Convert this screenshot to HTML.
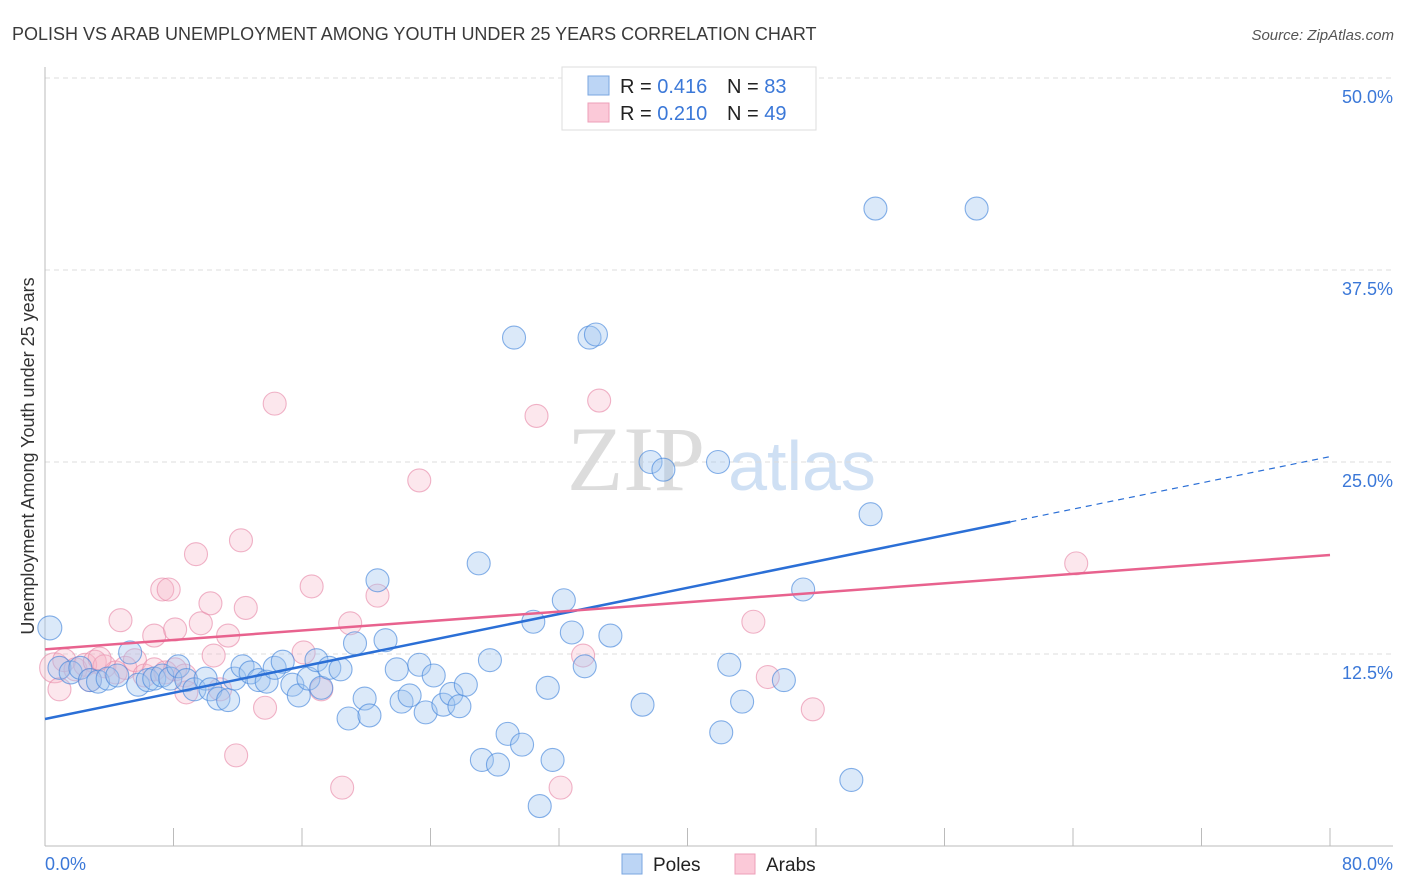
<!DOCTYPE html>
<html><head><meta charset="utf-8"><style>
body{margin:0;background:#fff;font-family:"Liberation Sans",sans-serif;}
svg{display:block}
</style></head><body>
<svg id="chart" width="1406" height="892" viewBox="0 0 1406 892">
<text x="12" y="40" font-size="18" fill="#3a3a3a">POLISH VS ARAB UNEMPLOYMENT AMONG YOUTH UNDER 25 YEARS CORRELATION CHART</text>
<text x="1394" y="40" font-size="15" fill="#555" text-anchor="end" font-style="italic">Source: ZipAtlas.com</text>
<g>
<text x="636" y="490" font-size="92" fill="#dcdcdc" font-family="Liberation Serif,serif" text-anchor="middle">ZIP</text>
<text x="802" y="490" font-size="70" fill="#cfe0f4" text-anchor="middle">atlas</text>
</g>
<g id="grid"></g>
<g id="axes"></g>
<g id="marks"></g>
<g id="trend"></g>
<text transform="translate(34,456) rotate(-90)" font-size="18" fill="#333" text-anchor="middle">Unemployment Among Youth under 25 years</text>
<text x="45" y="870" font-size="18" fill="#3b78d8">0.0%</text>
<text x="1393" y="870" font-size="18" fill="#3b78d8" text-anchor="end">80.0%</text>
<g>
<rect x="562" y="67" width="254" height="63" fill="#fff" stroke="#ddd"/>
<rect x="588" y="76" width="21" height="19" fill="#bcd5f5" stroke="#7aa6e0"/>
<rect x="588" y="103" width="21" height="19" fill="#fbc9d8" stroke="#ee9fb8"/>
<text x="620" y="93" font-size="20" fill="#222">R = <tspan fill="#3b78d8">0.416</tspan><tspan x="727">N = </tspan><tspan fill="#3b78d8">83</tspan></text>
<text x="620" y="120" font-size="20" fill="#222">R = <tspan fill="#3b78d8">0.210</tspan><tspan x="727">N = </tspan><tspan fill="#3b78d8">49</tspan></text>
</g>
<g>
<rect x="622" y="854" width="20" height="20" fill="#bcd5f5" stroke="#7aa6e0"/>
<text x="653" y="871" font-size="19" fill="#222">Poles</text>
<rect x="735" y="854" width="20" height="20" fill="#fbc9d8" stroke="#ee9fb8"/>
<text x="766" y="871" font-size="19" fill="#222">Arabs</text>
</g>
</svg>
<script>
const yTicks=[12.5,25,37.5,50];
const yTickLabels=["12.5%","25.0%","37.5%","50.0%"];
const xTicks=[0,8,16,24,32,40,48,56,64,72,80];
const polesX=[0.3,0.9,1.6,2.2,2.8,3.3,3.9,4.5,5.3,5.8,6.4,6.8,7.3,7.8,8.3,8.8,9.3,10.0,10.3,10.8,11.4,11.8,12.3,12.8,13.3,13.8,14.3,14.8,15.4,15.8,16.4,16.9,17.2,17.7,18.4,18.9,19.3,19.9,20.2,20.7,21.2,21.9,22.2,22.7,23.3,23.7,24.2,24.8,25.3,25.8,26.2,27.0,27.2,27.7,28.2,28.8,29.2,29.7,30.4,30.8,31.3,31.6,32.3,32.8,33.6,33.9,34.3,35.2,37.2,37.7,38.5,41.9,42.1,42.6,43.4,46.0,47.2,50.2,51.4,51.7,58.0];
const polesY=[14.2,11.6,11.3,11.6,10.8,10.7,10.9,11.1,12.6,10.5,10.8,10.9,11.1,10.9,11.7,10.8,10.2,10.9,10.2,9.6,9.5,10.9,11.7,11.3,10.8,10.7,11.6,12.0,10.5,9.8,10.9,12.1,10.3,11.6,11.5,8.3,13.2,9.6,8.5,17.3,13.4,11.5,9.4,9.8,11.8,8.7,11.1,9.2,9.9,9.1,10.5,18.4,5.6,12.1,5.3,7.3,33.1,6.6,14.6,2.6,10.3,5.6,16.0,13.9,11.7,33.1,33.3,13.7,9.2,25.0,24.5,25.0,7.4,11.8,9.4,10.8,16.7,4.3,21.6,41.5,41.5];
const arabsX=[0.6,1.2,1.9,2.5,3.1,3.7,4.4,5.0,5.6,6.2,6.8,7.5,8.1,8.7,2.8,3.4,4.7,6.8,7.3,7.7,8.1,8.8,9.4,9.7,10.3,10.5,10.9,11.4,11.9,12.2,12.5,13.7,14.3,16.1,16.6,17.2,18.5,19.0,20.7,23.3,30.6,32.1,33.5,34.5,44.1,45.0,47.8,64.2,0.9];
const arabsY=[11.6,12.1,11.5,11.8,12.0,11.7,11.3,11.6,12.1,11.1,11.5,11.3,11.5,11.1,10.8,12.2,14.7,13.7,16.7,16.7,14.1,10.0,19.0,14.5,15.8,12.4,10.2,13.7,5.9,19.9,15.5,9.0,28.8,12.6,16.9,10.2,3.8,14.5,16.3,23.8,28.0,3.8,12.4,29.0,14.6,11.0,8.9,18.4,10.2];
const polesTrend=[8.27,0.2135];
const arabsTrend=[12.8,0.0768];

const NS="http://www.w3.org/2000/svg";
const X0=45,X1=1330,Y0=846,Y1=78;
const sx=v=>X0+(v/80)*(X1-X0);
const sy=v=>Y0-(v/50)*(Y0-Y1);
function mk(tag,attrs,parent){const e=document.createElementNS(NS,tag);for(const k in attrs)e.setAttribute(k,attrs[k]);parent.appendChild(e);return e;}
const grid=document.getElementById('grid'),axes=document.getElementById('axes'),marks=document.getElementById('marks'),trend=document.getElementById('trend');
yTicks.forEach((t,i)=>{
  const l=mk('line',{x1:X0,x2:1393,y1:sy(t),y2:sy(t),stroke:'#ddd','stroke-dasharray':'5,4'},grid);
  
  
  const tx=mk('text',{x:1393,y:sy(t)+25,'font-size':18,fill:'#3b78d8','text-anchor':'end'},grid);
  tx.textContent=yTickLabels[i];
  
  
});
const ya=mk('line',{x1:X0,x2:X0,y1:67,y2:Y0,stroke:'#bbb'},axes);


const xa=mk('line',{x1:X0,x2:1393,y1:Y0,y2:Y0,stroke:'#bbb'},axes);


xTicks.forEach(t=>{
  const l=mk('line',{x1:sx(t),x2:sx(t),y1:828,y2:Y0,stroke:'#bbb'},axes);
  
  
});
function pts(xs,ys,fill,stroke,name){
  xs.forEach((x,i)=>{
    const r=(i===0)?(name==='arabs-point'?15:12):11.5;
    const c=mk('circle',{cx:sx(x),cy:sy(ys[i]),r:r,fill:fill,stroke:stroke,'stroke-width':1.1},marks);
    
    
  });
}
pts(arabsX,arabsY,'rgba(246,180,200,0.32)','rgba(232,140,170,0.65)','arabs-point');
pts(polesX,polesY,'rgba(160,196,240,0.38)','rgba(70,135,220,0.65)','poles-point');
const pb=x=>polesTrend[0]+polesTrend[1]*x;
const ab=x=>arabsTrend[0]+arabsTrend[1]*x;
const l1=mk('line',{x1:sx(0),y1:sy(pb(0)),x2:sx(60.1),y2:sy(pb(60.1)),stroke:'#2b6fd6','stroke-width':2.5},trend);


const l2=mk('line',{x1:sx(60.1),y1:sy(pb(60.1)),x2:sx(80),y2:sy(pb(80)),stroke:'#2b6fd6','stroke-width':1.2,'stroke-dasharray':'6,5'},trend);


const l3=mk('line',{x1:sx(0),y1:sy(ab(0)),x2:sx(80),y2:sy(ab(80)),stroke:'#e8628e','stroke-width':2.5},trend);


</script>
</body></html>
